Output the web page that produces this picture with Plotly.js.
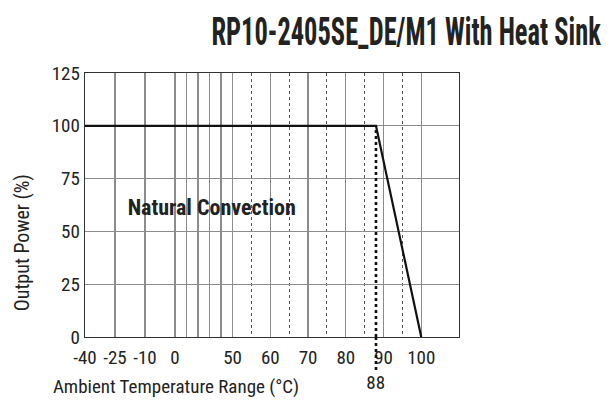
<!DOCTYPE html>
<html>
<head>
<meta charset="utf-8">
<script src="https://cdn.plot.ly/plotly-3.0.1.min.js"></script>
<style>
html,body{margin:0;padding:0;background:#fff;}
#chart{width:616px;height:401px;}
#chart text{font-stretch:condensed;}
</style>
</head>
<body>
<div id="chart"></div>
<script>
// ---- data ----
const temperature = [-40, 88, 100];
const outputPower = [100, 100, 0];
const deratingTemp = 88;
const xTickTemps = [-40, -25, -10, 0, 10, 20, 30, 40, 50, 60, 70, 80, 90, 100, 110];
const xTickLabels = ['-40', '-25', '-10', '0', '', '', '', '', '50', '60', '70', '80', '90', '100', ''];
const dashedGridTemps = [55, 65, 75, 85, 95];
const yTicks = [0, 25, 50, 75, 100, 125];
const yTickLabels = ['0', '25', '50', '75', '100', '125'];

// ---- piecewise (non-uniform) temperature scale of the original chart ----
const scaleTemps = [-40, -25, -10, 0, 50, 110];
const scaleUnits = [0, 30, 60, 90, 147.7, 374.3];
function tx(t) {
  for (let i = 0; i < scaleTemps.length - 1; i++) {
    if (t <= scaleTemps[i + 1] || i === scaleTemps.length - 2) {
      const f = (t - scaleTemps[i]) / (scaleTemps[i + 1] - scaleTemps[i]);
      return scaleUnits[i] + f * (scaleUnits[i + 1] - scaleUnits[i]);
    }
  }
}

const FONT = 'Roboto, "Open Sans", sans-serif';
const TXT = '#222222';
const yMax = 125;

const traces = [{
  x: temperature.map(tx),
  y: outputPower,
  mode: 'lines',
  line: {color: '#111', width: 2.2},
  hoverinfo: 'skip',
  showlegend: false
}];

const layout = {
  width: 616, height: 401,
  margin: {l: 85, r: 157, t: 73, b: 64},
  paper_bgcolor: '#fff', plot_bgcolor: '#fff',
  font: {family: FONT, color: TXT, size: 19},
  showlegend: false,
  title: {
    text: 'RP10-2405SE_DE/M1 With Heat Sink',
    font: {family: FONT, size: 38, color: TXT, weight: 'bold'},
    x: 406 / 616, xanchor: 'center', xref: 'container',
    y: 1 - 32 / 401, yanchor: 'middle', yref: 'container'
  },
  xaxis: {
    range: [tx(-40), tx(110)],
    tickmode: 'array',
    tickvals: xTickTemps.map(tx),
    ticktext: xTickLabels,
    showgrid: true, gridcolor: '#8c8c8c', gridwidth: 1.2,
    zeroline: false,
    showline: true, linecolor: '#333', linewidth: 1.4, mirror: true,
    ticks: '', ticklabelstandoff: 3,
    tickfont: {family: FONT, size: 19, color: TXT, weight: 400},
    minor: {
      tickmode: 'array',
      tickvals: dashedGridTemps.map(tx),
      showgrid: true, gridcolor: '#555', gridwidth: 1, griddash: '3px,3px',
      ticks: ''
    },
    fixedrange: true
  },
  yaxis: {
    range: [0, yMax],
    tickmode: 'array',
    tickvals: yTicks,
    ticktext: yTickLabels,
    showgrid: true, gridcolor: '#8c8c8c', gridwidth: 1.2,
    zeroline: false,
    showline: true, linecolor: '#333', linewidth: 1.4, mirror: true,
    ticks: '', ticklabelstandoff: 0,
    tickfont: {family: FONT, size: 19, color: TXT, weight: 400},
    fixedrange: true
  },
  shapes: [
    {type: 'line', xref: 'x', yref: 'y', x0: tx(deratingTemp), x1: tx(deratingTemp), y0: 0, y1: outputPower[1],
     line: {color: '#111', width: 2.6, dash: 'dot'}, layer: 'above'},
    {type: 'line', xref: 'x', yref: 'paper', x0: tx(deratingTemp), x1: tx(deratingTemp), y0: -0.125, y1: 0,
     line: {color: '#111', width: 2.6, dash: 'dot'}, layer: 'above'}
  ],
  annotations: [
    {text: 'Natural Convection', xref: 'x', yref: 'y', x: tx(32), y: 61.5, showarrow: false,
     font: {family: FONT, size: 22, color: TXT, weight: 'bold'}, xanchor: 'center', yanchor: 'middle'},
    {text: 'Ambient Temperature Range (°C)', xref: 'paper', yref: 'paper', x: (176 - 85) / 374.3, y: -(387 - 337) / 264.3,
     showarrow: false, font: {family: FONT, size: 19, color: TXT, weight: 400}, xanchor: 'center', yanchor: 'middle'},
    {text: 'Output Power (%)', xref: 'paper', yref: 'paper', x: (22 - 85) / 374.3, y: (337 - 243) / 264.3,
     showarrow: false, textangle: -90, font: {family: FONT, size: 20, color: TXT, weight: 400}, xanchor: 'center', yanchor: 'middle'},
    {text: String(deratingTemp), xref: 'x', yref: 'paper', x: tx(deratingTemp), y: -(383 - 337) / 264.3,
     showarrow: false, font: {family: FONT, size: 19, color: TXT, weight: 400}, xanchor: 'center', yanchor: 'middle'}
  ]
};

Plotly.newPlot('chart', traces, layout, {staticPlot: true, displayModeBar: false}).then(function (gd) {
  // the original title uses a very compressed face: squeeze it horizontally to the same width
  const t = gd.querySelector('.gtitle');
  if (t) {
    const bb = t.getBBox();
    const targetW = 390;
    if (bb.width > targetW) {
      const sx = targetW / bb.width;
      const cx = bb.x + bb.width / 2;
      t.setAttribute('transform', 'translate(' + cx + ',0) scale(' + sx + ',1) translate(' + (-cx) + ',0)');
    }
  }
});
</script>
</body>
</html>
